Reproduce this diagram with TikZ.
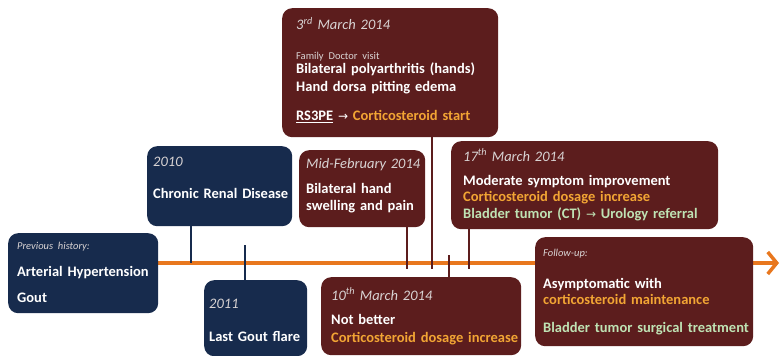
\documentclass[tikz,border=0pt]{standalone}
\usepackage{fontspec}
\setmainfont{Carlito}
\newfontfamily\arrowfont{DejaVu Sans}
\usetikzlibrary{arrows.meta,backgrounds}
\definecolor{tlnavy}{HTML}{172B4D}
\definecolor{tlmaroon}{HTML}{5C1D1D}
\definecolor{tlorange}{HTML}{E8771E}
\definecolor{txtorange}{HTML}{F2A534}
\definecolor{txtgreen}{HTML}{BFE3B4}
\definecolor{txtgrey}{HTML}{D9D4D4}

\newcommand{\bigfont}{\fontsize{14.5}{17}\selectfont}
\newcommand{\smallfont}{\fontsize{10.5}{17}\selectfont}
\newcommand{\evdate}[1]{{\mdseries\itshape\color{txtgrey}#1}}
\newcommand{\evnote}[1]{{\smallfont\mdseries\color{txtgrey}#1}}
\newcommand{\rarr}{{\mdseries\arrowfont\fontsize{12}{17}\selectfont →}}

\begin{document}
\begin{tikzpicture}[x=1pt, y=-1pt,
  evbox/.style={rounded corners=10pt, inner sep=0pt, anchor=north west},
  navybox/.style={evbox, fill=tlnavy},
  redbox/.style={evbox, fill=tlmaroon},
  evtext/.style={anchor=base west, inner sep=0pt, align=left, text width=260pt,
    text=white, font=\bigfont\bfseries},
  navytick/.style={draw=tlnavy, line width=2.5pt},
  redtick/.style={draw=tlmaroon, line width=2.5pt}]
  \useasboundingbox (0,0) rectangle (782,356);

  % history boxes
  \node[navybox, minimum width=150pt, minimum height=80pt] (hist) at (8,233) {};
  \node[evtext] (hist-t) at (17,249) {\evnote{\itshape Previous history:}\\[10pt]
    Arterial Hypertension\\[9pt] Gout};
  \node[navybox, minimum width=145pt, minimum height=80pt] (crd) at (147,146) {};
  \node[evtext] (crd-t) at (153,166) {\evdate{2010}\\[15pt] Chronic Renal Disease};
  \node[navybox, minimum width=103pt, minimum height=76pt] (gout) at (204,280) {};
  \node[evtext] (gout-t) at (209,308) {\evdate{2011}\\[16pt] Last Gout flare};

  % 2014 events
  \node[redbox, minimum width=216pt, minimum height=129pt] (doc) at (282,8) {};
  \node[evtext] (doc-t) at (296,29.5) {\evdate{3\textsuperscript{rd} March 2014}\\[12.5pt]
    \evnote{Family Doctor visit}\\[-2.5pt]
    Bilateral polyarthritis (hands)\\[1.5pt]
    Hand dorsa pitting edema\\[12pt]
    \underline{RS3PE} \rarr{} \textcolor{txtorange}{Corticosteroid start}};
  \node[redbox, minimum width=126pt, minimum height=77pt] (feb) at (299,150) {};
  \node[evtext] (feb-t) at (306,168) {\evdate{Mid-February 2014}\\[8pt]
    Bilateral hand\\ swelling and pain};
  \node[redbox, minimum width=267pt, minimum height=88pt] (mar17) at (451,141) {};
  \node[evtext] (mar17-t) at (463,161) {\evdate{17\textsuperscript{th} March 2014}\\[7pt]
    Moderate symptom improvement\\[-1pt]
    \textcolor{txtorange}{Corticosteroid dosage increase}\\
    \textcolor{txtgreen}{Bladder tumor (CT) \rarr{} Urology referral}};
  \node[redbox, minimum width=200pt, minimum height=78pt] (mar10) at (321,277) {};
  \node[evtext] (mar10-t) at (331,300) {\evdate{10\textsuperscript{th} March 2014}\\[7pt]
    Not better\\[1pt]
    \textcolor{txtorange}{Corticosteroid dosage increase}};
  \node[redbox, minimum width=218pt, minimum height=109pt] (follow) at (535,237) {};
  \node[evtext] (follow-t) at (543,256) {\evnote{\itshape Follow-up:}\\[15pt]
    Asymptomatic with\\[-1pt]
    \textcolor{txtorange}{corticosteroid maintenance}\\[11pt]
    \textcolor{txtgreen}{Bladder tumor surgical treatment}};

  % timeline
  \coordinate (tl-end) at (779,263);
  \begin{scope}[on background layer]
    \draw[tlorange, line width=3.5pt, -{Straight Barb[length=9pt, width=22pt]}]
      (hist.east |- tl-end) -- (tl-end);
  \end{scope}

  % ticks onto the timeline
  \coordinate (t-crd) at (191,263);
  \coordinate (t-gout) at (245,245);
  \coordinate (t-feb) at (407,269);
  \coordinate (t-doc) at (432,269);
  \coordinate (t-mar10) at (449,255);
  \coordinate (t-mar17) at (469,269);
  \draw[navytick] (crd.south -| t-crd) -- (t-crd);
  \draw[navytick] (t-gout) -- (gout.north -| t-gout);
  \draw[redtick] (feb.south -| t-feb) -- (t-feb);
  \draw[redtick] (doc.south -| t-doc) -- (t-doc);
  \draw[redtick] (t-mar10) -- (mar10.north -| t-mar10);
  \draw[redtick] (mar17.south -| t-mar17) -- (t-mar17);
\end{tikzpicture}
\end{document}
